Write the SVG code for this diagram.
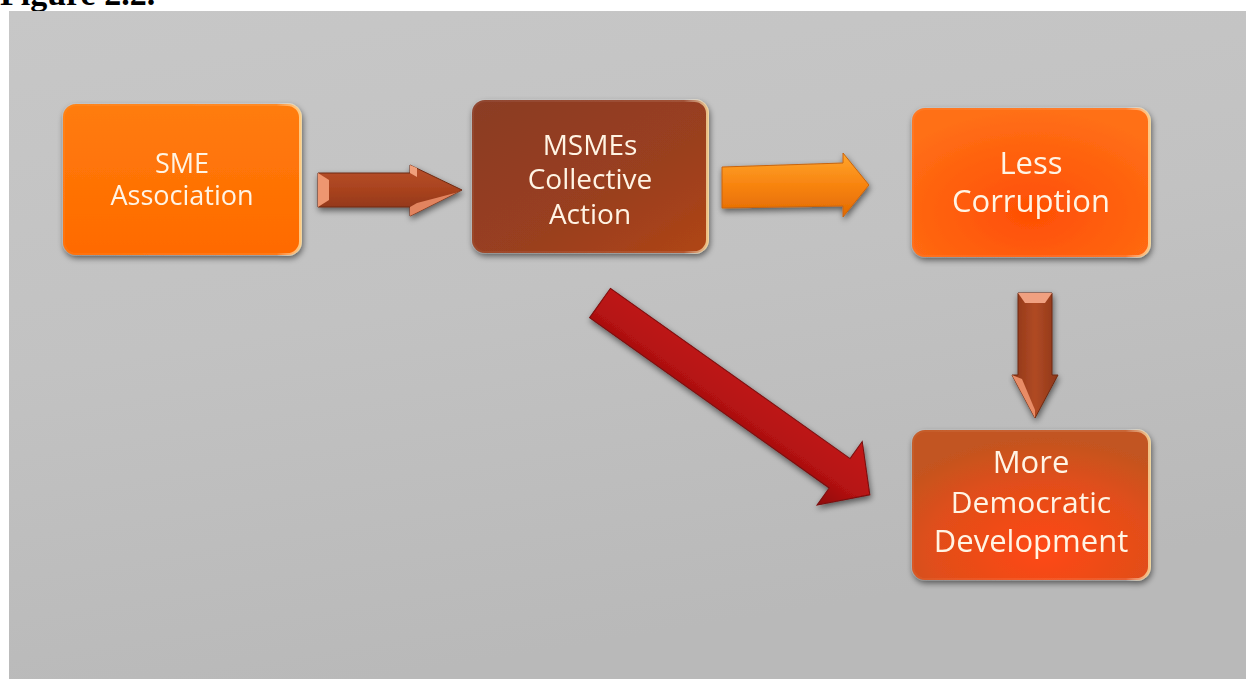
<svg xmlns="http://www.w3.org/2000/svg" width="1246" height="679" viewBox="0 0 1246 679">
<defs>
<style>
.lbl{font-family:"Open Sans","Noto Sans","Liberation Sans",sans-serif;fill:#FFF4E4;text-anchor:middle}
.cap{font-family:"Liberation Serif","Times New Roman",serif;font-weight:bold;fill:#000}
</style>
<linearGradient id="bg" x1="0" y1="0" x2="0.3" y2="1">
<stop offset="0" stop-color="#C7C7C7"/>
<stop offset="0.5" stop-color="#C2C2C2"/>
<stop offset="1" stop-color="#B9B9B9"/>
</linearGradient>
<linearGradient id="gSME" x1="0" y1="0" x2="0" y2="1">
<stop offset="0" stop-color="#FF7C0C"/>
<stop offset="1" stop-color="#FF6A00"/>
</linearGradient>
<linearGradient id="gMS" x1="0" y1="0" x2="1" y2="1">
<stop offset="0" stop-color="#8A3C25"/>
<stop offset="0.6" stop-color="#9A3F1F"/>
<stop offset="1" stop-color="#B04515"/>
</linearGradient>
<radialGradient id="gLess" cx="0.5" cy="0.7" r="0.7">
<stop offset="0" stop-color="#FF4E04"/>
<stop offset="1" stop-color="#FF7016"/>
</radialGradient>
<radialGradient id="gMore" cx="0.55" cy="0.8" r="0.75">
<stop offset="0" stop-color="#FF4812"/>
<stop offset="0.6" stop-color="#E24E1A"/>
<stop offset="1" stop-color="#C25420"/>
</radialGradient>
<linearGradient id="bevel" x1="0" y1="0" x2="1" y2="0">
<stop offset="0" stop-color="#FFFFFF" stop-opacity="0.05"/>
<stop offset="0.9" stop-color="#FFFFFF" stop-opacity="0.1"/>
<stop offset="1" stop-color="#FFE0A0" stop-opacity="0.8"/>
</linearGradient>
<linearGradient id="gOr" x1="0" y1="0" x2="0" y2="1">
<stop offset="0" stop-color="#FFA62C"/>
<stop offset="0.5" stop-color="#F88410"/>
<stop offset="1" stop-color="#E26A00"/>
</linearGradient>
<linearGradient id="gRed" x1="0" y1="0" x2="0" y2="1">
<stop offset="0" stop-color="#C41A18"/>
<stop offset="0.6" stop-color="#B51212"/>
<stop offset="1" stop-color="#8E0C0C"/>
</linearGradient>
<linearGradient id="gBrH" x1="0" y1="0" x2="0" y2="1">
<stop offset="0" stop-color="#B9502A"/>
<stop offset="0.5" stop-color="#A8421E"/>
<stop offset="1" stop-color="#8A3418"/>
</linearGradient>
<linearGradient id="gBrV" x1="0" y1="0" x2="1" y2="0">
<stop offset="0" stop-color="#8E3618"/>
<stop offset="0.5" stop-color="#B04A24"/>
<stop offset="1" stop-color="#8E3618"/>
</linearGradient>
<filter id="sh" x="-10%" y="-10%" width="125%" height="130%">
<feGaussianBlur in="SourceAlpha" stdDeviation="3"/>
<feOffset dx="1" dy="3" result="b"/>
<feComponentTransfer><feFuncA type="linear" slope="0.55"/></feComponentTransfer>
<feMerge><feMergeNode/><feMergeNode in="SourceGraphic"/></feMerge>
</filter>
</defs>

<text class="cap" x="0" y="5" font-size="34">Figure 2.2.</text>
<rect x="9" y="11" width="1237" height="668" fill="url(#bg)"/>

<g id="connectors">
<g id="a-sme-msme" filter="url(#sh)">
<path d="M318,173 L410,173 L410,165 L462,190 L410,216 L410,207 L318,207 Z" fill="url(#gBrH)" stroke="#6E2A12" stroke-width="1"/>
<path d="M318,173 L329,180 L329,200 L318,207 Z" fill="#EE9670"/>
<path d="M410,165 L417,168 L417,177 L410,173 Z" fill="#F0A07C"/>
<path d="M417,203 L455,193 L462,190 L410,216 L410,207 Z" fill="#E2845E"/>
</g>
<g id="a-msme-less" filter="url(#sh)">
<path d="M722,167 L843,163 L843,153 L869,185 L843,217 L843,206 L722,208 Z" fill="url(#gOr)" stroke="#C8640E" stroke-width="1"/>
</g>
<g id="a-msme-more" filter="url(#sh)">
<path transform="translate(600,303) rotate(35.4)" d="M0,-18 L294,-18 L294,-39 L331,0 L294,39 L294,18 L0,18 Z" fill="url(#gRed)" stroke="#7A0A0A" stroke-width="1"/>
</g>
<g id="a-less-more" filter="url(#sh)">
<path d="M1018,293 L1052,293 L1052,375 L1058,375 L1035,418 L1012,375 L1018,375 Z" fill="url(#gBrV)" stroke="#6E2A12" stroke-width="1"/>
<path d="M1018,293 L1052,293 L1045,303 L1025,303 Z" fill="#F0A080"/>
<path d="M1012,375 L1022,379 L1035,410 L1035,418 Z" fill="#E88C66"/>
</g>
</g>

<g id="n-sme" filter="url(#sh)">
<rect x="63" y="104" width="238" height="151" rx="13" fill="url(#gSME)"/>
<rect x="63.5" y="104.5" width="237" height="150" rx="13" fill="none" stroke="url(#bevel)" stroke-width="3"/>
<text class="lbl" x="182" y="173" font-size="27">SME</text>
<text class="lbl" x="182" y="205" font-size="27">Association</text>
</g>

<g id="n-msme" filter="url(#sh)">
<rect x="472" y="100" width="236" height="153" rx="13" fill="url(#gMS)"/>
<rect x="472.5" y="100.5" width="235" height="152" rx="13" fill="none" stroke="url(#bevel)" stroke-width="3"/>
<text class="lbl" x="590" y="155" font-size="28">MSMEs</text>
<text class="lbl" x="590" y="189" font-size="28">Collective</text>
<text class="lbl" x="590" y="224" font-size="28">Action</text>
</g>

<g id="n-less" filter="url(#sh)">
<rect x="912" y="108" width="238" height="149" rx="13" fill="url(#gLess)"/>
<rect x="912.5" y="108.5" width="237" height="148" rx="13" fill="none" stroke="url(#bevel)" stroke-width="3"/>
<text class="lbl" x="1031" y="174" font-size="31">Less</text>
<text class="lbl" x="1031" y="212" font-size="31">Corruption</text>
</g>

<g id="n-more" filter="url(#sh)">
<rect x="912" y="430" width="238" height="150" rx="13" fill="url(#gMore)"/>
<rect x="912.5" y="430.5" width="237" height="149" rx="13" fill="none" stroke="url(#bevel)" stroke-width="3"/>
<text class="lbl" x="1031" y="473" font-size="31">More</text>
<text class="lbl" x="1031" y="513" font-size="30">Democratic</text>
<text class="lbl" x="1031" y="552" font-size="31">Development</text>
</g>
</svg>
